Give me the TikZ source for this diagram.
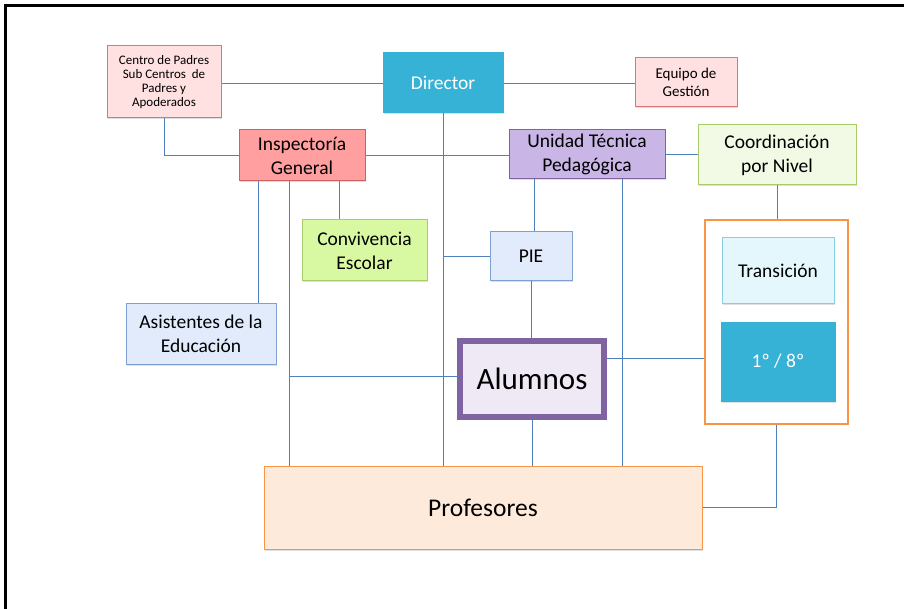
\documentclass[tikz,border=0pt]{standalone}
\usepackage{fontspec}
\setmainfont{Carlito}
\usetikzlibrary{shadows,backgrounds}

% colores
\definecolor{linea}{HTML}{4F81BD}
\definecolor{cian}{HTML}{35B2D6}
\definecolor{rosa}{HTML}{FFE1E1}
\definecolor{rosaborde}{HTML}{DC7676}
\definecolor{salmon}{HTML}{FF9F9F}
\definecolor{salmonborde}{HTML}{D0605F}
\definecolor{lila}{HTML}{C9B6E7}
\definecolor{lilaborde}{HTML}{8064A2}
\definecolor{verdeclaro}{HTML}{F2FAE6}
\definecolor{lima}{HTML}{D8F8A2}
\definecolor{verdeborde}{HTML}{A8CC6A}
\definecolor{celeste}{HTML}{E1EBFB}
\definecolor{celesteborde}{HTML}{7CA0D2}
\definecolor{aguaclaro}{HTML}{E3F7FD}
\definecolor{aguaborde}{HTML}{8ACDE0}
\definecolor{alumnofondo}{HTML}{EFE9F6}
\definecolor{naranja}{HTML}{F79646}
\definecolor{durazno}{HTML}{FDEADB}

\tikzset{
  caja/.style={draw, line width=1pt, inner sep=0pt, align=center,
    font=\fontsize{19.5}{24}\selectfont,
    drop shadow={shadow xshift=1pt, shadow yshift=-1.5pt, opacity=0.25}},
  enlace/.style={draw=linea, line width=0.8pt},
}

\begin{document}
\begin{tikzpicture}[x=1pt,y=-1pt]
    \useasboundingbox (0,0) rectangle (904,609);
    % Marco:
    \draw [line width=2.5pt] (5.5,609) -- (5.5,5.5) -- (904,5.5);

    % Fila superior
    \node [caja, fill=rosa, draw=rosaborde, minimum width=114, minimum height=72,
           font=\fontsize{13}{14}\selectfont] (centro) at (164,82)
          {Centro de Padres\\Sub Centros\ \ de\\Padres y\\Apoderados};
    \node [caja, fill=cian, draw=cian, text=white, minimum width=120, minimum height=60] (director) at (443,83) {Director};
    \node [caja, fill=rosa, draw=rosaborde, minimum width=102, minimum height=49,
           font=\fontsize{15}{18}\selectfont] (equipo) at (686,82.5) {Equipo de\\Gestión};

    % Segunda fila
    \node [caja, fill=salmon, draw=salmonborde, minimum width=126, minimum height=51] (inspectoria) at (302,155.5) {Inspectoría\\General};
    \node [caja, fill=lila, draw=lilaborde, minimum width=156, minimum height=49] (utp) at (587,154.5) {Unidad Técnica\\Pedagógica};
    \node [caja, fill=verdeclaro, draw=verdeborde, minimum width=158, minimum height=60] (coord) at (777,155) {Coordinación\\por Nivel};

    % Tercera fila
    \node [caja, fill=lima, draw=verdeborde, minimum width=125, minimum height=61] (convivencia) at (364.5,250.5) {Convivencia\\Escolar};
    \node [caja, fill=celeste, draw=celesteborde, minimum width=82, minimum height=49] (pie) at (531,256.5) {PIE};
    \node [caja, fill=celeste, draw=celesteborde, minimum width=150, minimum height=60] (asistentes) at (201,334) {Asistentes de la\\Educación};

    % Alumnos
    \node [caja, fill=alumnofondo, draw=lilaborde, line width=6pt, minimum width=144, minimum height=76,
           font=\fontsize{31}{34}\selectfont] (alumnos) at (532,379) {Alumnos};

    % Niveles
    \node [draw=naranja, line width=2pt, fill=white, minimum width=143, minimum height=204] (niveles) at (776.5,322) {};
    \node [caja, fill=aguaclaro, draw=aguaborde, minimum width=112, minimum height=66] (transicion) at (778,271) {Transición};
    \node [caja, fill=cian, draw=cian, text=white, minimum width=114, minimum height=79] (basica) at (778,361.5) {1º / 8º};

    % Profesores
    \node [caja, fill=durazno, draw=naranja, minimum width=438, minimum height=83,
           font=\fontsize{25.5}{28}\selectfont] (profesores) at (483,507.5) {Profesores};

    % Conexiones (detras de las cajas)
    \begin{scope}[on background layer]
        \draw [enlace] (director.west -| centro.east) -- (director.west);
        \draw [enlace] (director.east) -- (director.east -| equipo.west);
        \draw [enlace] (centro.south) -- (centro.south |- inspectoria.west) -- (inspectoria.west);
        \draw [enlace] (inspectoria.east) -- (inspectoria.east -| utp.west);
        \draw [enlace] (utp.east) -- (utp.east -| coord.west);
        \draw [enlace] (director.south) -- (director.south |- profesores.north);
        % desde Inspectoria
        \draw [enlace] ([xshift=20pt]inspectoria.south west) coordinate (i1) -- (i1 |- asistentes.north);
        \draw [enlace] ([xshift=51pt]inspectoria.south west) coordinate (i2) -- (i2 |- profesores.north);
        \draw [enlace] ([xshift=101pt]inspectoria.south west) coordinate (i3) -- (i3 |- convivencia.north);
        \draw [enlace] ([yshift=3pt]alumnos.west -| i2) -- ([yshift=3pt]alumnos.west);
        % desde UTP
        \draw [enlace] (pie.west) -- (pie.west -| director.south);
        \draw [enlace] ([xshift=26pt]utp.south west) coordinate (u1) -- (u1 |- pie.north);
        \draw [enlace] ([xshift=114pt]utp.south west) coordinate (u2) -- (u2 |- profesores.north);
        \draw [enlace] (pie.south) -- (pie.south |- alumnos.north);
        \draw [enlace] (alumnos.south) -- (alumnos.south |- profesores.north);
        % niveles
        \draw [enlace] ([yshift=21pt]alumnos.east) coordinate (a1) -- (a1 -| niveles.west);
        \draw [enlace] (coord.south) -- (coord.south |- niveles.north);
        \draw [enlace] (niveles.south) -- (niveles.south |- profesores.east) -- (profesores.east);
    \end{scope}
\end{tikzpicture}
\end{document}
